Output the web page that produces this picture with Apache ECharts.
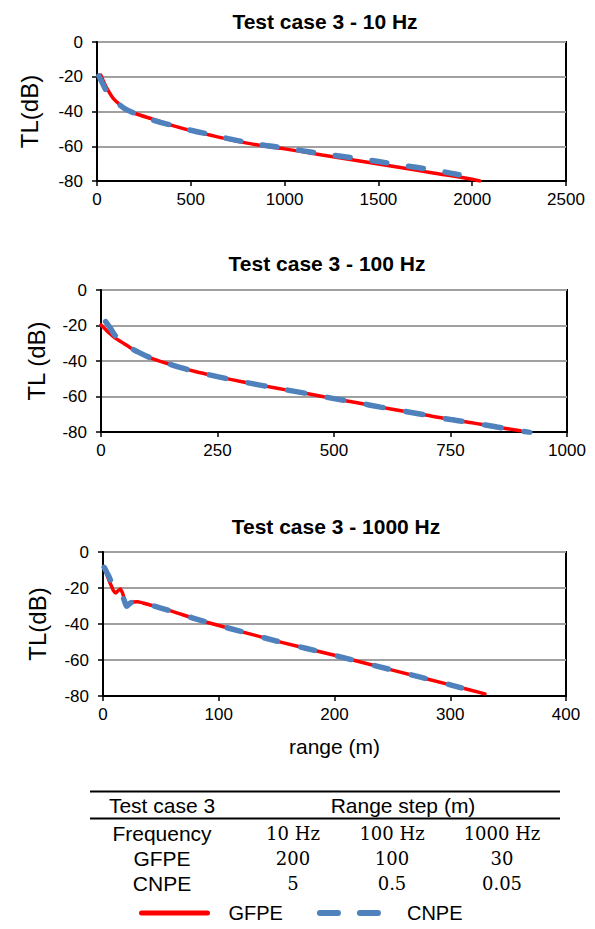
<!DOCTYPE html>
<html>
<head>
<meta charset="utf-8">
<script src="https://cdn.jsdelivr.net/npm/echarts@6/dist/echarts.min.js"></script>
<style>
html,body{margin:0;padding:0;background:#fff;}
#chart{width:595px;height:929px;}
</style>
</head>
<body>
<div id="chart"></div>
<script>
// ---- Data ----
var titles = ['Test case 3 - 10 Hz', 'Test case 3 - 100 Hz', 'Test case 3 - 1000 Hz'];
var yNames = ['TL(dB)', 'TL (dB)', 'TL(dB)'];
var xMax = [2500, 1000, 400];
var xStep = [500, 250, 100];

var gfpe10 = [[20,-19],[40,-24],[60,-28],[80,-31.5],[100,-34],[150,-38.5],[200,-41],[300,-44.5],[400,-48],[500,-51],[600,-53.5],[700,-56],[800,-58.2],[900,-60],[1000,-61.5],[1200,-65],[1400,-68.5],[1600,-72],[1800,-75.5],[2000,-79],[2040,-80]];
var cnpe10 = [[10,-19.5],[35,-25],[60,-30],[100,-34.3],[150,-38.5],[200,-41],[300,-45],[400,-48],[500,-50.8],[600,-53.2],[700,-55.6],[800,-57.8],[900,-59.6],[1000,-61],[1200,-64.3],[1400,-67.2],[1600,-70.5],[1800,-73.8],[1930,-76.4]];

var gfpe100 = [[0,-19.7],[10,-22.3],[20,-24.8],[30,-27],[45,-29.5],[60,-32],[80,-35],[110,-38.6],[150,-42],[200,-45.8],[250,-48.8],[300,-51.5],[350,-54],[400,-56.4],[450,-58.7],[500,-61.2],[550,-63.5],[600,-66],[650,-68.3],[700,-70.6],[750,-73],[800,-75],[850,-77.2],[900,-79.3]];
var cnpe100 = [[10,-17.8],[20,-21.5],[30,-25.5],[45,-29],[60,-32],[80,-35],[110,-38.6],[150,-42],[200,-45.8],[250,-48.8],[300,-51.5],[350,-54],[400,-56.4],[450,-58.7],[500,-61.2],[550,-63.5],[600,-66],[650,-68.3],[700,-70.6],[750,-73],[800,-75],[850,-77.2],[890,-78.9],[920,-80.2]];

var gfpe1000 = [[1,-9],[3,-12],[5,-15.5],[7,-18.5],[9,-21.5],[11,-22.8],[13,-21.5],[15,-20.5],[17,-23],[19,-27.5],[21,-30],[23,-29],[26,-27.8],[30,-27.6],[40,-29.3],[60,-33],[80,-37.2],[100,-40.8],[150,-49.5],[200,-57.4],[250,-65.6],[300,-73.8],[330,-78.8]];
var cnpe1000 = [[1,-8.5],[3,-11],[5,-13.5],[7.5,-17],[10,-20],[13,-21],[15,-22],[17,-24.5],[20.5,-30.2],[23,-28.6],[26,-27.7],[30,-27.8],[40,-29.3],[60,-33],[80,-37.2],[100,-40.8],[150,-49.5],[200,-57.4],[250,-65.6],[300,-73.8],[328,-78.6]];

var tableHeader = ['Test case 3', 'Range step (m)'];
var tableRowLabels = ['Frequency', 'GFPE', 'CNPE'];
var tableRows = [['10 Hz', '100 Hz', '1000 Hz'], ['200', '100', '30'], ['5', '0.5', '0.05']];
var legendNames = ['GFPE', 'CNPE'];

// ---- Layout ----
var grids = [
  {left: 97, top: 42, width: 469, height: 139},
  {left: 101, top: 290, width: 466, height: 142},
  {left: 103, top: 552, width: 463, height: 144}
];
var titleY = [6, 248, 511];
var titleX = [320, 322, 331];
var nameGaps = [56, 53, 54];
var dashes = [[15, 22], [17, 23], [14, 24]];
var SANS = '"Liberation Sans", Arial, sans-serif';
var SERIF = '"DejaVu Serif", "Liberation Serif", serif';

var gfpeAll = [gfpe10, gfpe100, gfpe1000];
var cnpeAll = [cnpe10, cnpe100, cnpe1000];

var option = {
  animation: false,
  backgroundColor: '#fff',
  title: titles.map(function (t, i) {
    return {
      text: t, left: titleX[i], top: titleY[i], textAlign: 'center',
      textStyle: {fontFamily: SANS, fontSize: 21, fontWeight: 'bold', color: '#000'}
    };
  }),
  grid: grids.map(function (g) {
    return {left: g.left, top: g.top, width: g.width, height: g.height, show: true,
      borderColor: '#000', borderWidth: 2, containLabel: false};
  }),
  xAxis: grids.map(function (g, i) {
    return {
      type: 'value', gridIndex: i, min: 0, max: xMax[i], interval: xStep[i],
      name: i === 2 ? 'range (m)' : '', nameLocation: 'middle', nameGap: 40,
      nameTextStyle: {fontFamily: SANS, fontSize: 21, color: '#000'},
      axisLine: {onZero: false, lineStyle: {color: '#000', width: 2}},
      axisTick: {show: true, inside: false, length: 5, lineStyle: {color: '#000', width: 1.5}},
      axisLabel: {fontFamily: SANS, fontSize: 17, color: '#000', margin: 10,
        formatter: function (v) { return String(v); }},
      splitLine: {show: false}
    };
  }),
  yAxis: grids.map(function (g, i) {
    return {
      type: 'value', gridIndex: i, min: -80, max: 0, interval: 20,
      name: yNames[i], nameLocation: 'middle', nameGap: nameGaps[i], nameRotate: 90,
      nameTextStyle: {fontFamily: SANS, fontSize: 24, color: '#000'},
      axisLine: {onZero: false, lineStyle: {color: '#000', width: 2}},
      axisTick: {show: true, inside: false, length: 5, lineStyle: {color: '#000', width: 1.5}},
      axisLabel: {fontFamily: SANS, fontSize: 17, color: '#000', margin: 14,
        formatter: function (v) { return String(v); }},
      splitLine: {show: true, lineStyle: {color: '#a0a0a0', width: 2}}
    };
  }),
  legend: {
    left: 134, bottom: 1, itemWidth: 66, itemHeight: 14, itemGap: 34,
    textStyle: {fontFamily: SANS, fontSize: 20, color: '#000', padding: [0, 0, 0, 16]},
    data: [
      {name: legendNames[0], itemStyle: {opacity: 0}, lineStyle: {color: '#ff0000', width: 5, cap: 'round'}},
      {name: legendNames[1], itemStyle: {opacity: 0}, lineStyle: {color: '#4f81bd', width: 6, type: [18, 22], cap: 'round'}}
    ]
  },
  graphic: [],
  series: []
};

for (var i = 0; i < 3; i++) {
  option.series.push({
    name: legendNames[0], type: 'line', xAxisIndex: i, yAxisIndex: i,
    data: gfpeAll[i], showSymbol: false, symbol: 'none', smooth: i === 2 ? 0.15 : 0.3,
    lineStyle: {color: '#ff0000', width: 3.5, cap: 'round'}, itemStyle: {color: '#ff0000'}, z: 2
  });
  option.series.push({
    name: legendNames[1], type: 'line', xAxisIndex: i, yAxisIndex: i,
    data: cnpeAll[i], showSymbol: false, symbol: 'none', smooth: i === 2 ? 0.15 : 0.3,
    lineStyle: {color: '#4f81bd', width: 5.5, type: dashes[i], cap: 'round'}, itemStyle: {color: '#4f81bd'}, z: 3
  });
}

// ---- Table ----
var tblLeft = 90, tblRight = 560;
var g = option.graphic;
g.push({type: 'line', shape: {x1: tblLeft, y1: 791.5, x2: tblRight, y2: 791.5}, style: {stroke: '#000', lineWidth: 2}});
g.push({type: 'line', shape: {x1: tblLeft, y1: 818.5, x2: tblRight, y2: 818.5}, style: {stroke: '#000', lineWidth: 2}});
function txt(s, x, y, font) {
  g.push({type: 'text', x: x, y: y, style: {text: s, textAlign: 'center', textVerticalAlign: 'middle', font: font, fill: '#000'}});
}
txt(tableHeader[0], 162, 805, '21px ' + SANS);
txt(tableHeader[1], 403, 805, '21px ' + SANS);
var colX = [293, 392, 502];
var rowY = [833, 858, 883];
for (var r = 0; r < 3; r++) {
  txt(tableRowLabels[r], 162, rowY[r], '21px ' + SANS);
  for (var c = 0; c < 3; c++) {
    txt(tableRows[r][c], colX[c], rowY[r], '18px ' + SERIF);
  }
}

var chart = echarts.init(document.getElementById('chart'), null, {renderer: 'svg'});
chart.setOption(option);
</script>
</body>
</html>
